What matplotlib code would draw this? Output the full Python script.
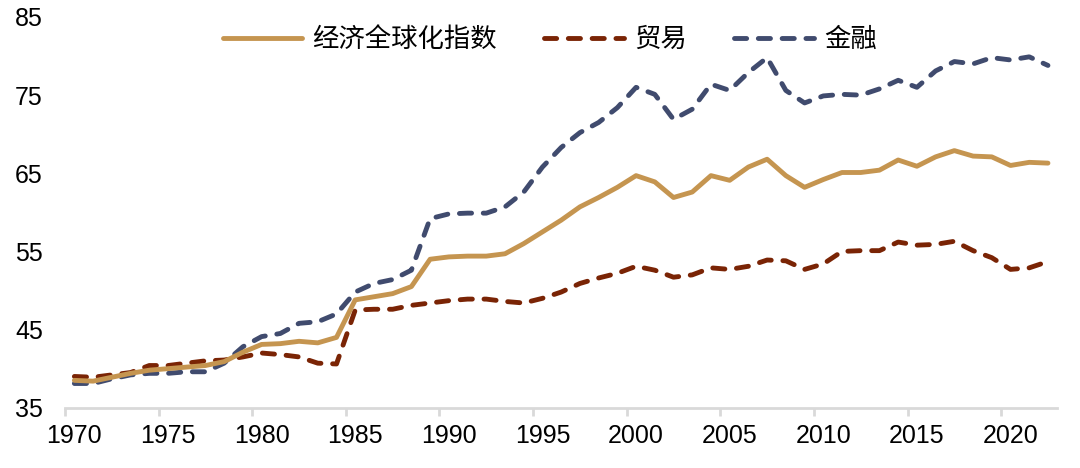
# -*- coding: utf-8 -*-
import numpy as np
import matplotlib
matplotlib.use("Agg")
import matplotlib.pyplot as plt

plt.rcParams['font.family'] = ['Liberation Sans', 'Noto Sans CJK SC', 'DejaVu Sans']

years = list(range(1970, 2023))

# 经济全球化指数
econ = [38.5, 38.4, 38.9, 39.4, 39.8, 40.0, 40.2, 40.4, 40.9, 42.1,
        43.1, 43.2, 43.5, 43.3, 44.0, 48.8, 49.2, 49.6, 50.5, 54.0,
        54.3, 54.4, 54.4, 54.7, 56.0, 57.5, 59.0, 60.7, 61.9, 63.2,
        64.7, 63.9, 61.9, 62.6, 64.7, 64.1, 65.8, 66.8, 64.7, 63.2,
        64.2, 65.1, 65.1, 65.4, 66.7, 65.9, 67.1, 67.9, 67.2, 67.1,
        66.0, 66.4, 66.3]

# 贸易
trade = [39.0, 38.9, 39.2, 39.5, 40.4, 40.4, 40.7, 41.0, 41.1, 41.5,
         42.0, 41.8, 41.5, 40.7, 40.6, 47.5, 47.6, 47.6, 48.1, 48.4,
         48.7, 48.9, 48.9, 48.6, 48.4, 49.0, 49.8, 50.9, 51.6, 52.2,
         53.1, 52.6, 51.7, 52.0, 52.9, 52.7, 53.1, 53.9, 53.8, 52.7,
         53.4, 55.0, 55.1, 55.1, 56.2, 55.8, 55.9, 56.3, 55.1, 54.2,
         52.7, 52.9, 53.7]

# 金融
finance = [38.1, 38.1, 38.7, 39.2, 39.4, 39.4, 39.6, 39.6, 40.7, 42.8,
           44.1, 44.5, 45.8, 46.0, 47.0, 49.8, 50.9, 51.4, 52.6, 59.2,
           59.8, 59.9, 59.9, 60.7, 62.6, 65.8, 68.3, 70.2, 71.5, 73.4,
           76.0, 75.1, 71.9, 73.2, 76.4, 75.6, 77.9, 79.8, 75.6, 74.0,
           74.9, 75.1, 75.0, 75.8, 76.9, 76.0, 78.1, 79.3, 79.0, 79.8,
           79.5, 79.9, 78.8]

gold = '#C59550'
red = '#7A2405'
navy = '#404B6E'

fig = plt.figure(figsize=(10.8, 4.68), dpi=100)
ax = fig.add_axes([0.0602, 0.1288, 0.979 - 0.0602, 0.9637 - 0.1288])

x = np.arange(len(years))
ax.plot(x, econ, color=gold, lw=3.5, solid_capstyle='round', solid_joinstyle='round',
        label='经济全球化指数', zorder=3)
ax.plot(x, trade, color=red, lw=3.5, dashes=(2.5, 2.4), dash_capstyle='round',
        label='贸易', zorder=2)
ax.plot(x, finance, color=navy, lw=3.5, dashes=(2.5, 2.4), dash_capstyle='round',
        label='金融', zorder=2)

ax.set_xlim(-0.5, len(years) - 0.5)
ax.set_ylim(35, 85)
ax.set_yticks(range(35, 86, 10))

ax.set_xticks(x[::5])
ax.set_xticklabels([str(y) for y in years[::5]])
ax.set_xticks(np.arange(-0.5, len(years), 5), minor=True)

for s in ['top', 'right', 'left']:
    ax.spines[s].set_visible(False)
ax.spines['bottom'].set_color('#D9D9D9')
ax.spines['bottom'].set_linewidth(2)

ax.tick_params(axis='x', which='major', length=0, pad=12, labelsize=18)
ax.tick_params(axis='x', which='minor', length=6, width=2, color='#D9D9D9')
ax.tick_params(axis='y', length=0, pad=16, labelsize=18)

fig.legend(loc='center', bbox_to_anchor=(0.509, 0.915), ncol=3, frameon=False,
           fontsize=19, handlelength=3.0, handletextpad=0.4, columnspacing=1.8)

fig.savefig('out.png', dpi=100)
